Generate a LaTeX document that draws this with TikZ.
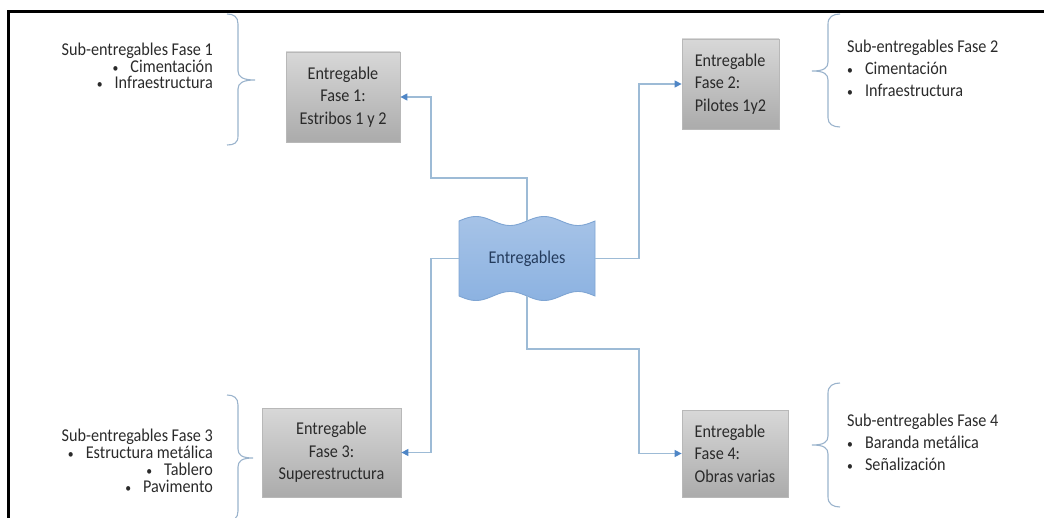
\documentclass[tikz,border=0pt]{standalone}
\usepackage{fontspec}
\setmainfont{Carlito}[FakeStretch=0.9]
\usetikzlibrary{arrows.meta}

\definecolor{connblue}{HTML}{9DBBD6}
\definecolor{tipblue}{HTML}{4F86C6}
\definecolor{bracecol}{HTML}{9AB3CC}
\definecolor{boxedge}{HTML}{B8B8B8}
\definecolor{boxtop}{HTML}{D8D8D8}
\definecolor{boxbot}{HTML}{ABABAB}
\definecolor{wavetop}{HTML}{A6C3E7}
\definecolor{wavemid}{HTML}{B8D0EE}
\definecolor{wavebot}{HTML}{8CB2E1}
\definecolor{waveedge}{HTML}{7FA5D3}
\definecolor{txt}{HTML}{2A2A2A}
\definecolor{wavetxt}{HTML}{243B5C}

\newcommand{\itemdot}{{\fontsize{13}{13}\selectfont\textbullet}\hspace{12pt}}

\begin{document}
\begin{tikzpicture}[x=1pt,y=-1pt,
  fasebox/.style={draw=boxedge, line width=0.8pt, top color=boxtop,
    bottom color=boxbot, text=txt, inner sep=0pt,
    font=\fontsize{18}{22.5}\selectfont},
  subleft/.style={align=right, anchor=base east, inner sep=0pt, text=txt,
    font=\fontsize{18}{16.8}\selectfont},
  subright/.style={align=left, anchor=base west, inner sep=0pt, text=txt,
    font=\fontsize{18}{22}\selectfont},
  conn/.style={draw=connblue, line width=1.4pt,
    -{Triangle[length=7pt,width=7pt,color=tipblue]}},
  bracket/.style={draw=bracecol, line width=1.1pt}
]
\useasboundingbox (0,0) rectangle (1044,518);

% frame lines along the top and left edges
\draw[line width=3pt] (7.4,11.7) -- (1044,11.7);
\draw[line width=2.7pt] (8.7,10.2) -- (8.7,518);

% central punched-tape shape
\shadedraw[top color=wavetop, middle color=wavemid, bottom color=wavebot,
  draw=waveedge, line width=0.9pt]
  plot[domain=0:136, samples=69, smooth] ({459+\x}, {221-4.5*sin(5.2941*\x)})
  -- plot[domain=136:0, samples=69, smooth] ({459+\x}, {296+4.5*sin(5.2941*\x)})
  -- cycle;
\node[minimum width=136pt, minimum height=75pt, inner sep=0pt, text=wavetxt,
  font=\fontsize{18}{18}\selectfont] (ent) at (527,258.5) {Entregables};

% phase boxes
\node[fasebox, align=center, minimum width=114pt, minimum height=90pt] (box1)
  at (343,97) {Entregable\\Fase 1:\\Estribos 1 y 2};
\node[fasebox, align=left, minimum width=97pt, minimum height=90pt] (box2)
  at (730.5,84) {Entregable\\Fase 2:\\Pilotes 1y2};
\node[fasebox, align=center, minimum width=139pt, minimum height=89pt] (box3)
  at (331.5,452.5) {Entregable\\Fase 3:\\Superestructura};
\node[fasebox, align=left, minimum width=106pt, minimum height=87pt] (box4)
  at (735,453.5) {Entregable\\Fase 4:\\Obras varias};

% bends of the connectors
\coordinate (j1) at (431,178);
\coordinate (j2) at (639,258.5);
\coordinate (j3) at (431,258.5);
\coordinate (j4) at (639,349);

\draw[conn] (ent.north) |- (j1) |- (box1.east);
\draw[conn] (ent.east) -- (j2) |- (box2.west);
\draw[conn] (ent.west) -- (j3) |- (box3.east);
\draw[conn] (ent.south) |- (j4) |- (box4.west);

% sub-deliverable lists (anchored at the baseline of the last line)
\node[subleft] (sub1) at (213,89)
  {Sub-entregables Fase 1\\\itemdot Cimentación\\\itemdot Infraestructura};
\node[subright] (sub2) at (847,97)
  {Sub-entregables Fase 2\\\itemdot Cimentación\\\itemdot Infraestructura};
\node[subleft] (sub3) at (213,492)
  {Sub-entregables Fase 3\\\itemdot Estructura metálica\\\itemdot Tablero\\\itemdot Pavimento};
\node[subright] (sub4) at (847,470)
  {Sub-entregables Fase 4\\\itemdot Baranda metálica\\\itemdot Señalización};

% curly brackets
\draw[bracket] (227,14) .. controls (234,14) and (238,17) .. (238,24)
  -- (238,71) .. controls (238,77) and (243,80) .. (255,80)
  .. controls (243,80) and (238,83) .. (238,89)
  -- (238,136) .. controls (238,143) and (234,145) .. (227,145);
\draw[bracket] (840,14) .. controls (833,14) and (828,17) .. (828,24)
  -- (828,62) .. controls (828,68) and (824,71) .. (812,71)
  .. controls (824,71) and (828,74) .. (828,80)
  -- (828,118) .. controls (828,124) and (833,127) .. (840,127);
\draw[bracket] (227,395) .. controls (234,395) and (238,398) .. (238,405)
  -- (238,449) .. controls (238,455) and (242,458) .. (253,458)
  .. controls (242,458) and (238,461) .. (238,467)
  -- (238,511) .. controls (238,518) and (234,521) .. (227,521);
\draw[bracket] (840,383) .. controls (833,383) and (828,386) .. (828,393)
  -- (828,436) .. controls (828,442) and (824,445) .. (812,445)
  .. controls (824,445) and (828,448) .. (828,454)
  -- (828,497) .. controls (828,504) and (833,507) .. (840,507);
\end{tikzpicture}
\end{document}
